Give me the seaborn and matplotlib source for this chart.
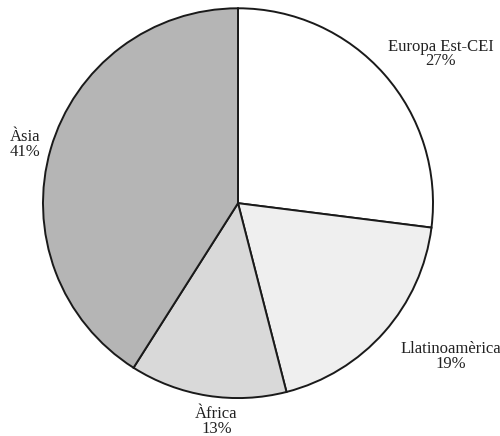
import matplotlib
matplotlib.use("Agg")
import matplotlib.pyplot as plt
import seaborn as sns

# regions and their share, clockwise from 12 o'clock
regions = ["Europa Est-CEI", "Llatinoamèrica", "Àfrica", "Àsia"]
shares = [27, 19, 13, 41]
greys = ["#ffffff", "#efefef", "#d9d9d9", "#b5b5b5"]

sns.set_style("white")
plt.rcParams["font.family"] = ["Liberation Serif", "DejaVu Serif"]

fig = plt.figure(figsize=(5, 4.36), dpi=100)
# pie centre near (238, 203) px, radius ~195 px
ax = fig.add_axes([0.086, 0.087, 0.78, 0.894])

ax.pie(shares, colors=greys, startangle=90, counterclock=False,
       wedgeprops=dict(edgecolor="#1a1a1a", linewidth=1.4))
ax.set_xlim(-1.0, 1.0)
ax.set_ylim(-1.0, 1.0)
ax.set_aspect("auto")
ax.axis("off")

label_pos = [(1.04, 0.765), (1.09, -0.785), (-0.11, -1.12), (-1.09, 0.30)]
for name, val, (x, y) in zip(regions, shares, label_pos):
    ax.text(x, y, f"{name}\n{val}%", ha="center", va="center", fontsize=12,
            linespacing=0.9, color="#222222", clip_on=False)

fig.savefig("out.png", dpi=100)
